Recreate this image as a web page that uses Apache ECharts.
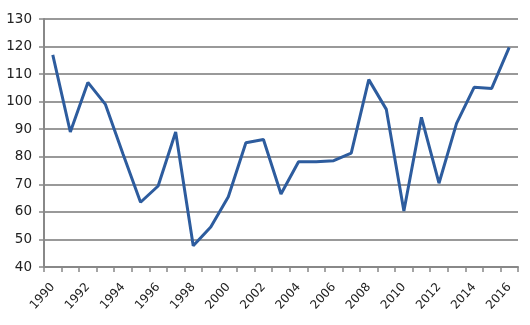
<!DOCTYPE html>
<html><head><meta charset="utf-8">
<script src="https://cdn.jsdelivr.net/npm/echarts@6/dist/echarts.min.js"></script>
<style>html,body{margin:0;padding:0;background:#fff}#c{width:530px;height:325px}</style>
</head><body><div id="c"></div>
<script>
const years = ['1990','1991','1992','1993','1994','1995','1996','1997','1998','1999','2000','2001','2002','2003','2004','2005','2006','2007','2008','2009','2010','2011','2012','2013','2014','2015','2016'];
const values = [117,89,107,99,81,63.5,69.4,89,47.7,54.5,65.5,85.1,86.3,66.5,78.2,78.2,78.6,81.3,108,97.2,60.3,94.3,70.4,92.1,105.2,104.8,119.7];
const yMin = 40, yMax = 130, yStep = 10;

const chart = echarts.init(document.getElementById('c'), null, {renderer:'canvas'});
chart.setOption({
  animation:false,
  grid:{left:44,right:12,top:19,bottom:58,containLabel:false},
  xAxis:{type:'category',data:years,boundaryGap:true,
    axisLine:{lineStyle:{color:'#888',width:2}},
    axisTick:{show:true,alignWithLabel:false,interval:0,length:5,lineStyle:{color:'#888',width:1.5}},
    axisLabel:{interval:1,rotate:48,color:'#222',fontFamily:'DejaVu Sans',fontSize:12,margin:18}},
  yAxis:{type:'value',min:yMin,max:yMax,interval:yStep,
    axisLine:{show:true,lineStyle:{color:'#888',width:2}},
    axisTick:{show:true,length:5,lineStyle:{color:'#888',width:1.5}},
    splitLine:{lineStyle:{color:'#777',width:1.5}},
    axisLabel:{color:'#222',fontFamily:'DejaVu Sans',fontSize:13.5,margin:12}},
  series:[{type:'line',data:values,showSymbol:false,symbol:'none',
    lineStyle:{color:'#2d5c9e',width:3}}]
});
</script></body></html>
